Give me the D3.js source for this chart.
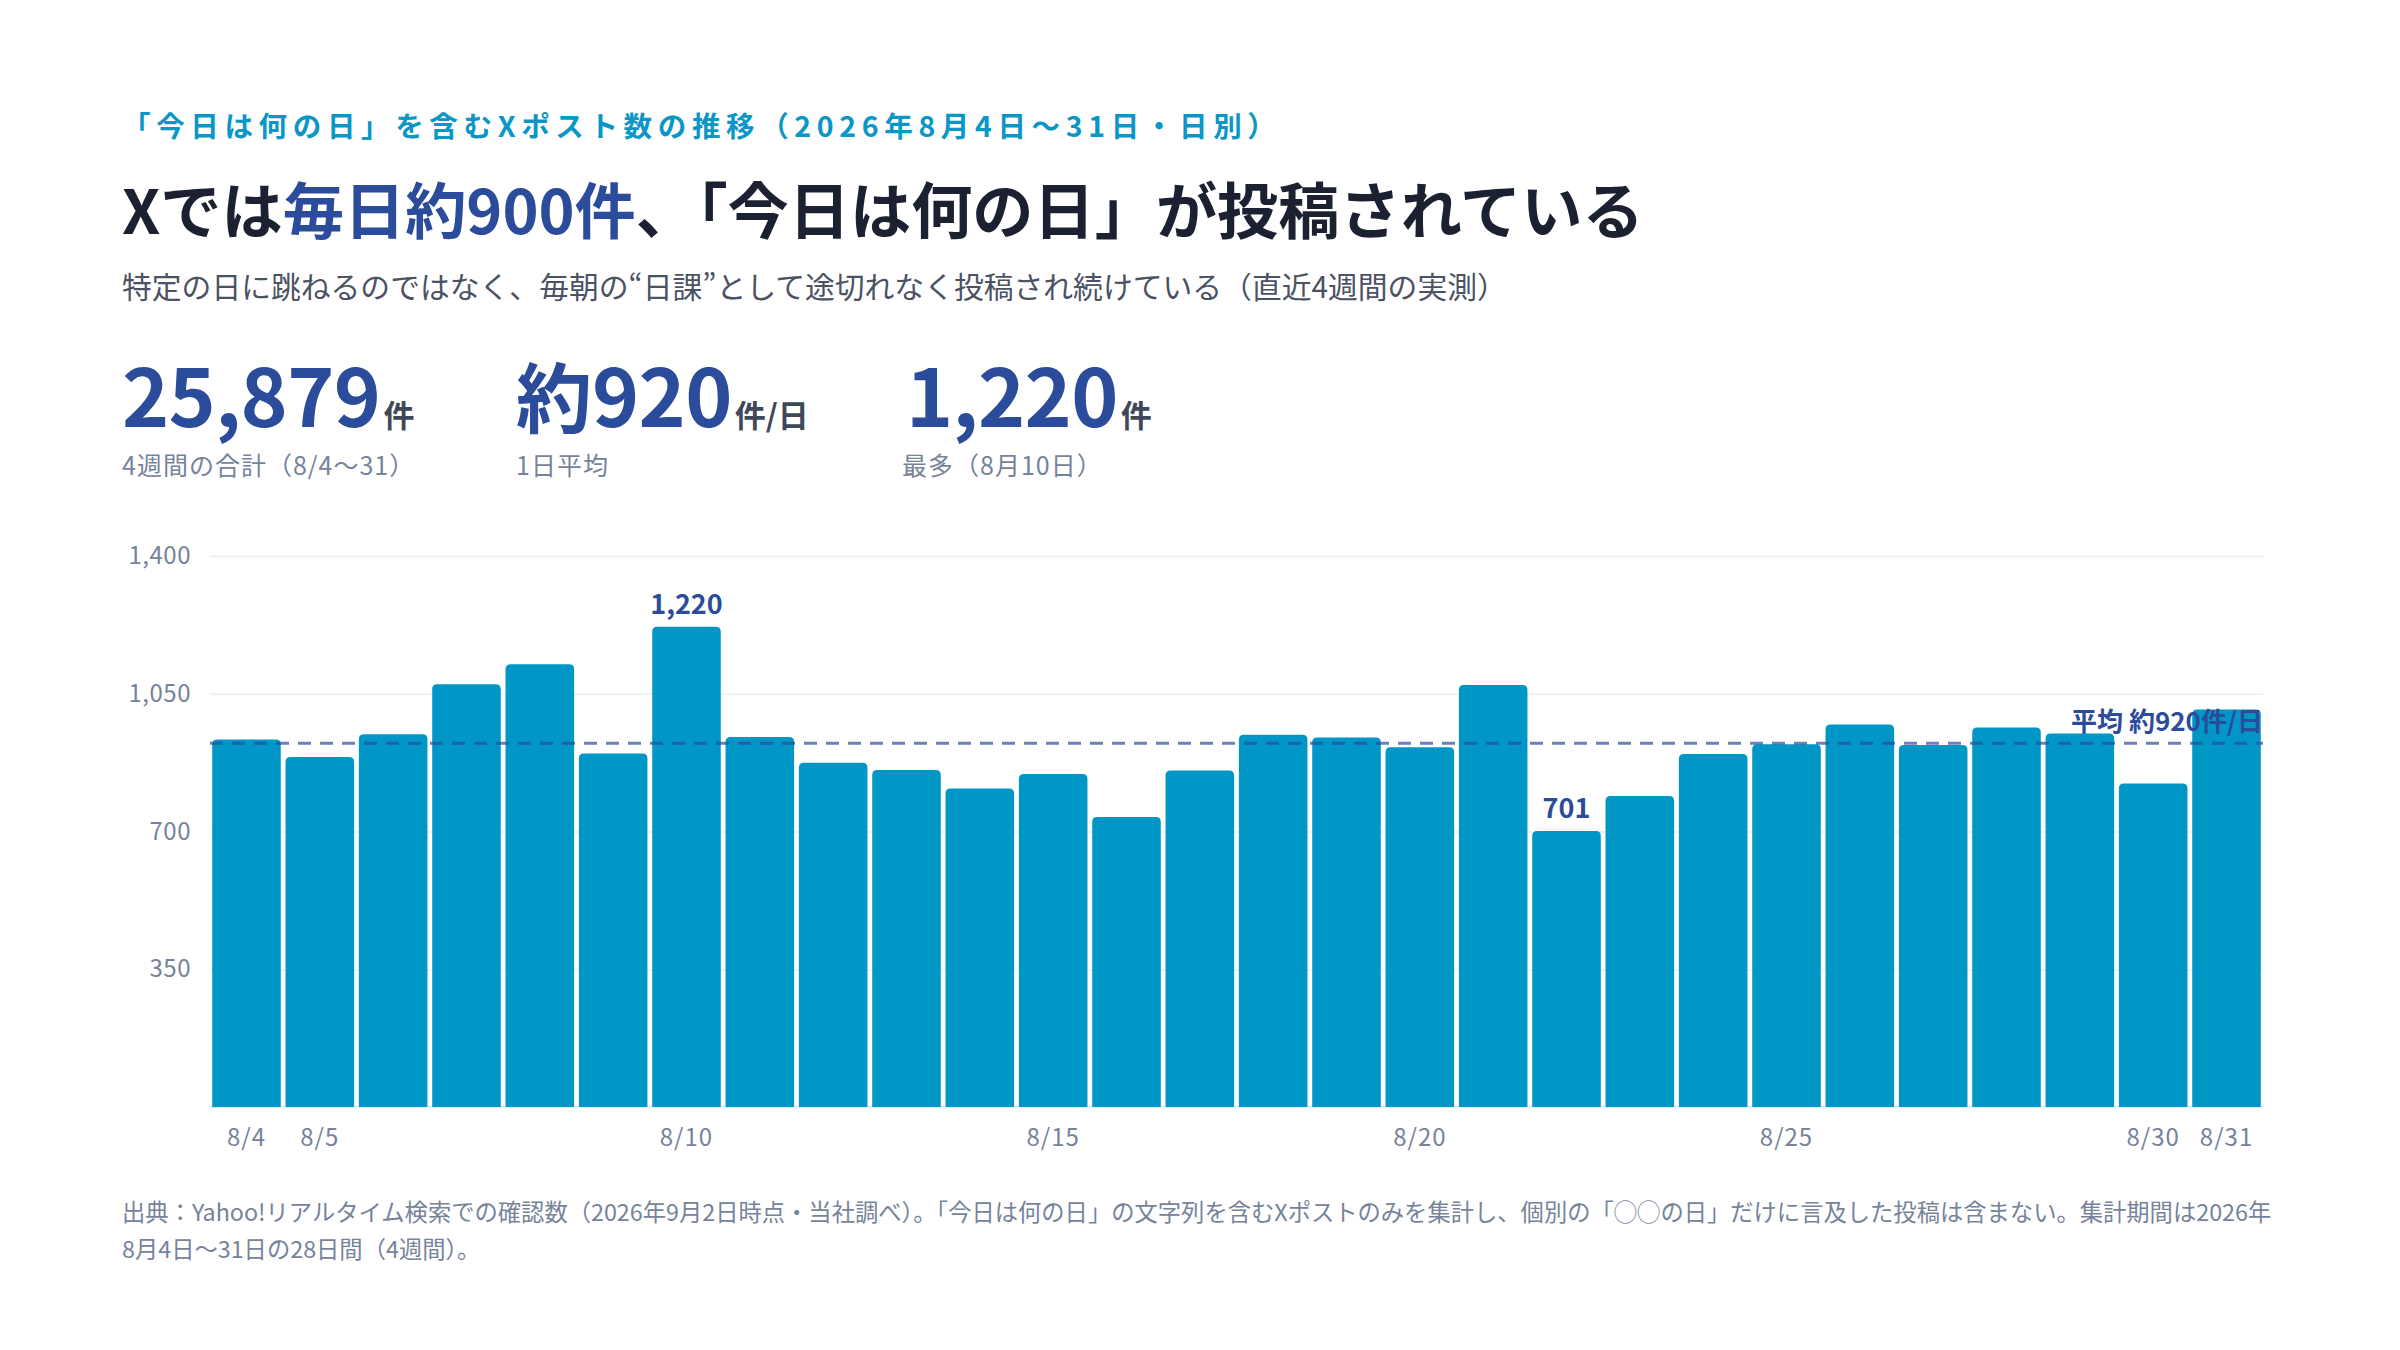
<!DOCTYPE html>
<html lang="ja">
<head>
<meta charset="utf-8">
<script src="https://cdn.jsdelivr.net/npm/d3@7"></script>
<style>
  html, body { margin: 0; padding: 0; background: #ffffff; }
  svg { display: block; font-family: "Noto Sans CJK JP", "Noto Sans", sans-serif; }
</style>
</head>
<body>
<svg id="chart" width="2400" height="1350"></svg>
<script>
// ---- data ----
const dates = ["8/4","8/5","8/6","8/7","8/8","8/9","8/10","8/11","8/12","8/13","8/14","8/15","8/16","8/17",
               "8/18","8/19","8/20","8/21","8/22","8/23","8/24","8/25","8/26","8/27","8/28","8/29","8/30","8/31"];
const posts = [934, 889, 947, 1074, 1125, 898, 1220, 940, 875, 856, 809, 846, 737, 855,
               946, 939, 914, 1072, 701, 790, 897, 922, 972, 920, 964, 949, 822, 1010];
const yTicks = [350, 700, 1050, 1400];
const xTickLabels = ["8/4","8/5","8/10","8/15","8/20","8/25","8/30","8/31"];
const averageValue = 924;
const highlighted = ["8/10", "8/22"];
const averageLabel = "平均 約920件/日";

const kpis = [
  { pre: "", num: "25,879", unit: "件", label: "4週間の合計（8/4〜31）" },
  { pre: "約", num: "920", unit: "件/日", label: "1日平均" },
  { pre: "", num: "1,220", unit: "件", label: "最多（8月10日）" }
];

// ---- layout ----
const svg = d3.select("#chart");
const blue = "#2b4b9b";
const cyan = "#0097c7";
const grey = "#76839a";

// Kicker
svg.append("text").attr("x", 122).attr("y", 137)
  .attr("font-size", 28.5).attr("font-weight", 700).attr("fill", "#0a96c6")
  .attr("letter-spacing", 5.65)
  .text("「今日は何の日」を含むXポスト数の推移（2026年8月4日〜31日・日別）");

// Title
const title = svg.append("text").attr("x", 122).attr("y", 234)
  .attr("font-size", 61.2).attr("font-weight", 700).attr("fill", "#1b2130");
title.append("tspan").text("Xでは");
title.append("tspan").attr("fill", blue).text("毎日約900件");
title.append("tspan").text("、「今日は何の日」が投稿されている");

// Subtitle
svg.append("text").attr("x", 122).attr("y", 298)
  .attr("font-size", 29.8).attr("fill", "#4a5263")
  .text("特定の日に跳ねるのではなく、毎朝の“日課”として途切れなく投稿され続けている（直近4週間の実測）");

// KPIs
const kpiX = [122, 516, 906];
kpis.forEach((k, i) => {
  const t = svg.append("text").attr("x", kpiX[i]).attr("y", 427).attr("font-weight", 700);
  if (k.pre) t.append("tspan").attr("font-size", 76).attr("fill", blue).text(k.pre);
  t.append("tspan").attr("font-size", 80).attr("fill", blue).attr("letter-spacing", -0.6).text(k.num);
  t.append("tspan").attr("font-size", 31).attr("fill", "#3f4859").attr("dx", 3).text(k.unit);
  svg.append("text").attr("x", kpiX[i] - (i === 2 ? 4 : 0)).attr("y", 475)
    .attr("font-size", 25).attr("letter-spacing", 1).attr("fill", grey).text(k.label);
});

// ---- chart ----
const plot = { left: 210, right: 2263, top: 556, bottom: 1107 };
const x = d3.scaleBand().domain(dates).range([plot.left, plot.right]).paddingInner(0.065).paddingOuter(0.03);
const y = d3.scaleLinear().domain([0, 1400]).range([plot.bottom, plot.top]);

const g = svg.append("g");

// gridlines + y labels
const yAxis = g.append("g").attr("transform", `translate(${plot.left},0)`)
  .call(d3.axisLeft(y).tickValues(yTicks).tickSize(-(plot.right - plot.left)).tickPadding(19).tickFormat(d3.format(",")));
yAxis.select(".domain").remove();
yAxis.selectAll(".tick line").attr("stroke", "#edf1f6").attr("stroke-width", 2);
yAxis.selectAll(".tick text").attr("fill", grey).attr("font-size", 24).attr("letter-spacing", 0.5)
  .attr("font-family", "\"Noto Sans CJK JP\", sans-serif");

// baseline
g.append("line").attr("x1", plot.left).attr("x2", plot.right)
  .attr("y1", y(0)).attr("y2", y(0)).attr("stroke", "#e6ebf2").attr("stroke-width", 2);

// bars with rounded top corners
const r = 5;
g.append("g").selectAll("path").data(dates).join("path")
  .attr("fill", cyan)
  .attr("d", (d, i) => {
    const bx = x(d), bw = x.bandwidth(), by = y(posts[i]), by0 = y(0);
    return `M${bx},${by0} V${by + r} Q${bx},${by} ${bx + r},${by} H${bx + bw - r} Q${bx + bw},${by} ${bx + bw},${by + r} V${by0} Z`;
  });

// x labels
const xAxis = g.append("g").attr("transform", `translate(0,${plot.bottom})`)
  .call(d3.axisBottom(x).tickValues(xTickLabels).tickSize(0).tickPadding(22));
xAxis.select(".domain").remove();
xAxis.selectAll(".tick text").attr("fill", grey).attr("font-size", 24).attr("letter-spacing", 1)
  .attr("font-family", "\"Noto Sans CJK JP\", sans-serif");

// average line
g.append("line").attr("x1", plot.left).attr("x2", plot.right)
  .attr("y1", y(averageValue)).attr("y2", y(averageValue))
  .attr("stroke", blue).attr("stroke-opacity", 0.7).attr("stroke-width", 3)
  .attr("stroke-dasharray", "13 9");
g.append("text").attr("x", plot.right).attr("y", y(averageValue) - 12)
  .attr("text-anchor", "end").attr("font-size", 26).attr("font-weight", 700).attr("fill", blue)
  .text(averageLabel);

// value labels for highlighted bars
g.append("g").selectAll("text").data(highlighted).join("text")
  .attr("x", d => x(d) + x.bandwidth() / 2)
  .attr("y", d => y(posts[dates.indexOf(d)]) - 13)
  .attr("text-anchor", "middle").attr("font-size", 27).attr("font-weight", 700).attr("fill", blue)
  .text(d => d3.format(",")(posts[dates.indexOf(d)]));

// footnote
const foot = [
  "出典：Yahoo!リアルタイム検索での確認数（2026年9月2日時点・当社調べ）。「今日は何の日」の文字列を含むXポストのみを集計し、個別の「◯◯の日」だけに言及した投稿は含まない。集計期間は2026年",
  "8月4日〜31日の28日間（4週間）。"
];
svg.append("g").selectAll("text").data(foot).join("text")
  .attr("x", 122).attr("y", (d, i) => 1221 + i * 37)
  .attr("font-size", 23.3).attr("fill", grey).text(d => d);
</script>
</body>
</html>
